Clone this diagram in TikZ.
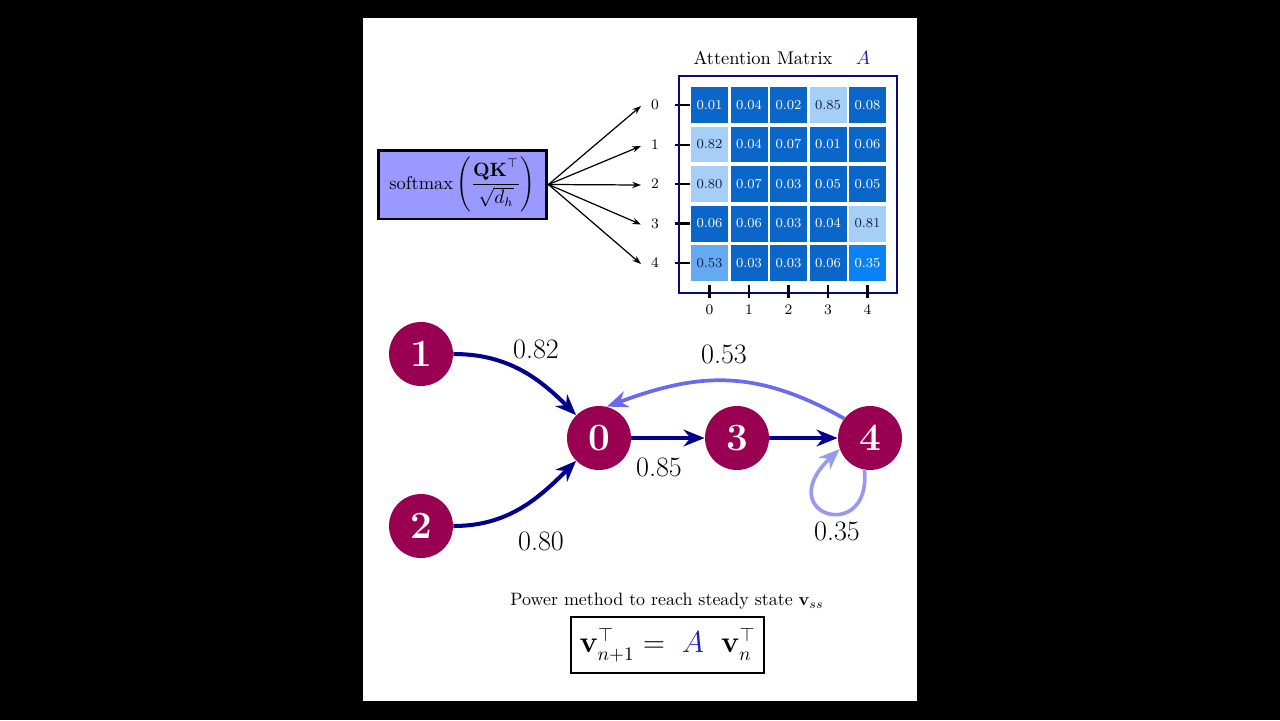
\documentclass[tikz,border=0pt]{standalone}
\usepackage{amsmath,amssymb}
\usetikzlibrary{arrows.meta}
\definecolor{lav}{RGB}{153,153,255}
\definecolor{framenavy}{RGB}{10,10,120}
\definecolor{celldark}{RGB}{10,102,200}
\definecolor{celllight}{RGB}{166,207,247}
\definecolor{cellmid}{RGB}{100,170,240}
\definecolor{cellbright}{RGB}{10,130,245}
\definecolor{txtdark}{RGB}{20,30,80}
\definecolor{nodemaroon}{RGB}{153,0,82}
\definecolor{edgenavy}{RGB}{0,0,140}
\definecolor{edgeback}{RGB}{106,106,240}
\definecolor{edgeloop}{RGB}{153,153,238}
\definecolor{matA}{RGB}{30,30,190}
\tikzset{
  smallarrow/.style={-{Stealth[length=5pt,width=3.6pt]}, line width=0.7pt, black},
  cellbox/.style={minimum width=0.74cm, minimum height=0.72cm, inner sep=0pt, font=\fontsize{7.8}{9}\selectfont},
  axislbl/.style={font=\fontsize{8.3}{10}\selectfont, inner sep=1pt},
  tick/.style={line width=1.2pt, black},
  gnode/.style={circle, fill=nodemaroon, minimum size=1.28cm, inner sep=0pt, text=white, font=\fontsize{22}{26}\selectfont\bfseries},
  gedge/.style={-{Stealth[length=12pt,width=9.5pt]}, line width=2.3pt, edgenavy},
  elbl/.style={font=\fontsize{16}{19}\selectfont, inner sep=0pt}
}
\begin{document}
\begin{tikzpicture}[x=0.02cm,y=-0.02cm]
\fill[black] (0,0) rectangle (1280,720);
\fill[white] (363,18) rectangle (917,701);
\useasboundingbox (0,0) rectangle (1280,720);

% softmax box
\node[draw=black, line width=1.7pt, fill=lav, minimum width=3.38cm, minimum height=1.38cm, inner sep=0pt, font=\fontsize{10.5}{12.5}\selectfont] (sm) at (462.5,184.5) {$\text{softmax}\left(\dfrac{\mathbf{QK}^{\top}}{\sqrt{d_h}}\right)$};

% row labels and arrows
\foreach \i/\y in {0/105,1/145,2/184,3/223.5,4/263}{
  \node[axislbl] (r\i) at (655,\y) {\i};
  \coordinate (t\i) at (641,\y+1);
  \draw[smallarrow] (sm.east) -- (t\i);
  \draw[tick] (675,\y) -- (690,\y);
}

% title
\node[font=\fontsize{10.5}{12.5}\selectfont] (title) at (763,58) {Attention Matrix};
\node[font=\fontsize{11}{13}\selectfont, text=matA] (Atitle) at (863,58) {$A$};

% frame
\draw[framenavy, line width=1.5pt] (679,76) rectangle (897,293);

% cells
\foreach \r/\c/\v/\f/\t in {
0/0/0.01/celldark/white, 0/1/0.04/celldark/white, 0/2/0.02/celldark/white, 0/3/0.85/celllight/txtdark, 0/4/0.08/celldark/white,
1/0/0.82/celllight/txtdark, 1/1/0.04/celldark/white, 1/2/0.07/celldark/white, 1/3/0.01/celldark/white, 1/4/0.06/celldark/white,
2/0/0.80/celllight/txtdark, 2/1/0.07/celldark/white, 2/2/0.03/celldark/white, 2/3/0.05/celldark/white, 2/4/0.05/celldark/white,
3/0/0.06/celldark/white, 3/1/0.06/celldark/white, 3/2/0.03/celldark/white, 3/3/0.04/celldark/white, 3/4/0.81/celllight/txtdark,
4/0/0.53/cellmid/txtdark, 4/1/0.03/celldark/white, 4/2/0.03/celldark/white, 4/3/0.06/celldark/white, 4/4/0.35/cellbright/white}{
  \node[cellbox, fill=\f, text=\t] (c\r\c) at ({709.5+39.5*\c},{105+39.5*\r}) {\v};
}

% column ticks and labels
\foreach \c in {0,...,4}{
  \draw[tick] ({709.5+39.5*\c},285) -- ({709.5+39.5*\c},298);
  \node[axislbl] (k\c) at ({709.5+39.5*\c},310) {\c};
}

% graph nodes
\node[gnode] (n1) at (421,354) {1};
\node[gnode] (n2) at (421,526) {2};
\node[gnode] (n0) at (599,438) {0};
\node[gnode] (n3) at (737,438) {3};
\node[gnode] (n4) at (870,438) {4};

% edges
\draw[gedge] (n1) to[out=0,in=135] (n0);
\draw[gedge] (n2) to[out=0,in=225] (n0);
\draw[gedge] (n0) -- (n3);
\draw[gedge] (n3) -- (n4);
\draw[gedge, edgeback, line width=2.1pt] (n4.143) .. controls (756,369) and (700,372) .. (n0.76);
\draw[gedge, edgeloop, line width=2.1pt] (n4.-100) .. controls (872,545) and (770,515) .. (n4.200);

% edge labels
\node[elbl] (l82) at (536,349) {0.82};
\node[elbl] (l80) at (541,541) {0.80};
\node[elbl] (l85) at (659,467) {0.85};
\node[elbl] (l53) at (724,354) {0.53};
\node[elbl] (l35) at (837,531) {0.35};

% power method
\node[font=\fontsize{10.2}{12.5}\selectfont] (pm) at (667,601) {Power method to reach steady state $\mathbf{v}_{ss}$};
\node[draw=black, line width=1.1pt, minimum width=3.86cm, minimum height=1.12cm, inner sep=0pt, font=\fontsize{16}{19}\selectfont] (eq) at (667.5,645) {$\mathbf{v}_{n+1}^{\top} = \;{\color{matA}A}\;\; \mathbf{v}_{n}^{\top}$};
\end{tikzpicture}
\end{document}
